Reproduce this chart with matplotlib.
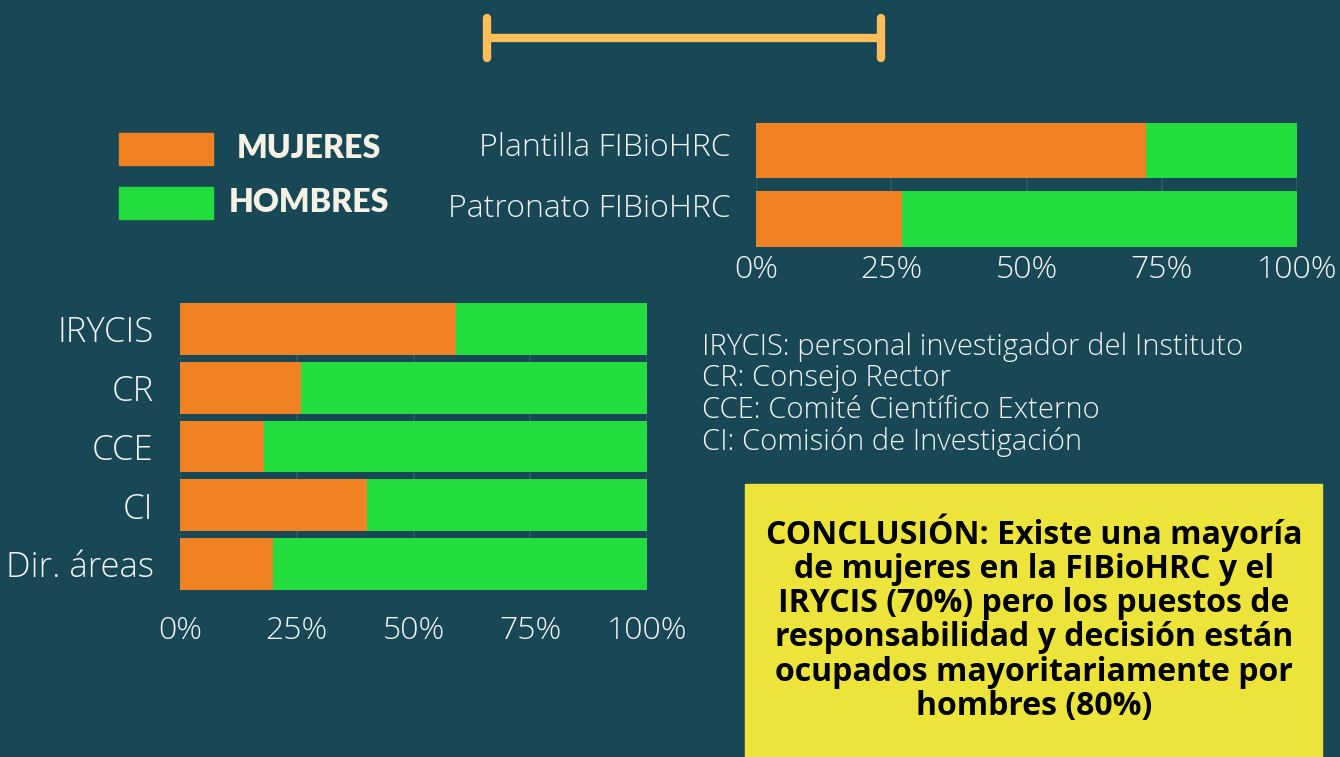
import matplotlib.pyplot as plt
from matplotlib.patches import Rectangle
from matplotlib.transforms import ScaledTranslation

# datos (% mujeres / % hombres)
top_cats = ['Plantilla FIBioHRC', 'Patronato FIBioHRC']
top_mujeres = [72, 27]
top_hombres = [28, 73]

bot_cats = ['IRYCIS', 'CR', 'CCE', 'CI', 'Dir. áreas']
bot_mujeres = [59, 26, 18, 40, 20]
bot_hombres = [41, 74, 82, 60, 80]

ticks = [0, 25, 50, 75, 100]
tick_labels = ['0%', '25%', '50%', '75%', '100%']

leyenda = ['MUJERES', 'HOMBRES']
notas = ['IRYCIS: personal investigador del Instituto',
         'CR: Consejo Rector',
         'CCE: Comité Científico Externo',
         'CI: Comisión de Investigación']
conclusion = ('CONCLUSIÓN: Existe una mayoría\nde mujeres en la FIBioHRC y el\n'
              'IRYCIS (70%) pero los puestos de\nresponsabilidad y decisión están\n'
              'ocupados mayoritariamente por\nhombres (80%)')

BG = '#184756'
NARANJA = '#F08224'
VERDE = '#22DD3D'
TXT = '#F2F2F2'
GRID = '#2E5C6A'

W, H = 1340, 757
fig = plt.figure(figsize=(W / 100, H / 100), dpi=100, facecolor=BG)


def px_axes(x0, y0, x1, y1):
    # coordenadas en pixeles (origen arriba a la izquierda)
    return fig.add_axes([x0 / W, 1 - y1 / H, (x1 - x0) / W, (y1 - y0) / H])


def barras(ax, cats, muj, hom, alto, fs_y, pad_x, pad_y):
    n = len(cats)
    pos = list(range(n))
    ax.set_facecolor(BG)
    ax.barh(pos, muj, height=alto, color=NARANJA, zorder=2)
    ax.barh(pos, hom, left=muj, height=alto, color=VERDE, zorder=2)
    ax.set_ylim(n - 1 + alto / 2, -alto / 2)
    ax.set_xlim(0, 100)
    ax.set_yticks(pos)
    ax.set_yticklabels(cats, fontsize=fs_y, color=TXT, family='Open Sans',
                       fontweight='light')
    ax.set_xticks(ticks)
    ax.set_xticklabels(tick_labels, fontsize=23, color=TXT, family='Open Sans',
                       fontweight='light')
    ax.tick_params(length=0)
    ax.tick_params(axis='x', pad=pad_x)
    ax.tick_params(axis='y', pad=pad_y)
    for x in ticks:
        ax.axvline(x, color=GRID, lw=1.2, zorder=1)
    for s in ax.spines.values():
        s.set_visible(False)


ax1 = px_axes(756, 122.6, 1297, 247)
barras(ax1, top_cats, top_mujeres, top_hombres, 0.815, 23, 5, 18)
# en el original las etiquetas de arriba van algo desplazadas hacia arriba
for lab, dy in zip(ax1.get_yticklabels(), [7, 14]):
    lab.set_transform(lab.get_transform() + ScaledTranslation(0, dy / 100, fig.dpi_scale_trans))

ax2 = px_axes(180, 303, 647, 590)
barras(ax2, bot_cats, bot_mujeres, bot_hombres, 0.885, 25, 18, 19)

# barra decorativa superior
deco = fig.add_axes([0, 0, 1, 1], facecolor='none')
deco.set_xlim(0, W)
deco.set_ylim(H, 0)
deco.axis('off')
deco.plot([487, 881], [38, 38], color='#FFBE5A', lw=6, solid_capstyle='butt')
deco.plot([487, 487], [18, 58], color='#FFBE5A', lw=6, solid_capstyle='round')
deco.plot([881, 881], [18, 58], color='#FFBE5A', lw=6, solid_capstyle='round')

# leyenda
for i, (lab, col) in enumerate(zip(leyenda, [NARANJA, VERDE])):
    yc = 148.5 + i * 54.5
    deco.add_patch(Rectangle((119, yc - 16), 94, 32, color=col))
    deco.text(309, yc, lab, fontsize=23, color='#F5F1E4', ha='center',
              va='center', family='Lato', fontweight='heavy')

# notas
for i, t in enumerate(notas):
    deco.text(702, 347 + i * 31.7, t, fontsize=21, color=TXT, ha='left',
              va='center', family='Open Sans', fontweight='light')

# cuadro de conclusion
deco.add_patch(Rectangle((745, 484), 577, 280, color='#EDE43B'))
deco.text(1034, 618, conclusion, fontsize=23, color='black', ha='center',
          va='center', family='Open Sans', fontweight='bold', linespacing=1.05)

fig.savefig('out.png', dpi=100, facecolor=BG)
